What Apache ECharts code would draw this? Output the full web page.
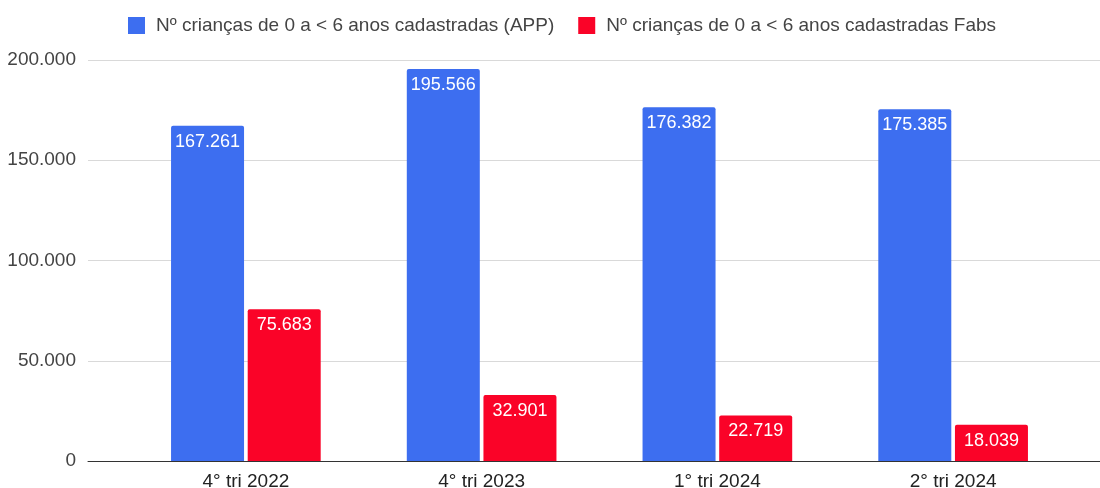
<!DOCTYPE html>
<html>
<head>
<meta charset="utf-8">
<script src="https://cdn.jsdelivr.net/npm/echarts@6/dist/echarts.min.js"></script>
<style>
  html, body { margin: 0; padding: 0; background: #fff; }
  #chart { width: 1100px; height: 488px; }
</style>
</head>
<body>
<div id="chart"></div>
<script>
  // dados
  var categories = ['4° tri 2022', '4° tri 2023', '1° tri 2024', '2° tri 2024'];
  var appValues = [167261, 195566, 176382, 175385];
  var fabsValues = [75683, 32901, 22719, 18039];
  var seriesNames = ['Nº crianças de 0 a < 6 anos cadastradas (APP)', 'Nº crianças de 0 a < 6 anos cadastradas Fabs'];
  var yTicks = [0, 50000, 100000, 150000, 200000];

  var FONT = '"Liberation Sans", Arial, sans-serif';

  // 167261 -> "167.261"
  function fmt (v) {
    return String(v).replace(/\B(?=(\d{3})+(?!\d))/g, '.');
  }

  var labelBar = {
    show: true,
    position: 'insideTop',
    distance: 7,
    color: '#fff',
    fontSize: 18,
    fontFamily: FONT,
    formatter: function (p) { return fmt(p.value); }
  };

  var chart = echarts.init(document.getElementById('chart'));
  chart.setOption({
    animation: false,
    textStyle: { fontFamily: FONT },
    legend: {
      left: 123,
      top: 11,
      itemWidth: 17,
      itemHeight: 17,
      itemGap: 24,
      icon: 'rect',
      textStyle: { fontSize: 19, color: '#444', padding: [0, 0, 0, 6] },
      data: seriesNames
    },
    grid: [
      // barras
      { left: 128, right: 29, top: 60, bottom: 27, outerBoundsMode: 'none' },
      // linhas de grade e eixo y
      { left: 88, right: 0, top: 60, bottom: 27, outerBoundsMode: 'none' }
    ],
    xAxis: [
      {
        type: 'category',
        gridIndex: 0,
        data: categories,
        axisLine: { show: false },
        axisTick: { show: false },
        axisLabel: { fontSize: 19, color: '#222', margin: 11 }
      },
      {
        type: 'category',
        gridIndex: 1,
        data: categories,
        axisLine: { show: true, lineStyle: { color: '#333', width: 1 } },
        axisTick: { show: false },
        axisLabel: { show: false }
      }
    ],
    yAxis: [
      {
        type: 'value',
        gridIndex: 0,
        min: yTicks[0],
        max: yTicks[yTicks.length - 1],
        interval: 50000,
        show: false,
        splitLine: { show: false }
      },
      {
        type: 'value',
        gridIndex: 1,
        min: yTicks[0],
        max: yTicks[yTicks.length - 1],
        interval: 50000,
        axisLine: { show: false },
        axisTick: { show: false },
        axisLabel: { fontSize: 19, color: '#444', margin: 12, formatter: fmt },
        splitLine: { lineStyle: { color: '#d9d9d9', width: 1 } }
      }
    ],
    series: [
      {
        name: seriesNames[0],
        type: 'bar',
        xAxisIndex: 0,
        yAxisIndex: 0,
        barWidth: 73,
        barGap: '5%',
        itemStyle: { color: '#3d6ef0', borderRadius: [2, 2, 0, 0] },
        label: labelBar,
        data: appValues
      },
      {
        name: seriesNames[1],
        type: 'bar',
        xAxisIndex: 0,
        yAxisIndex: 0,
        barWidth: 73,
        itemStyle: { color: '#fa0328', borderRadius: [2, 2, 0, 0] },
        label: labelBar,
        data: fabsValues
      }
    ]
  });
</script>
</body>
</html>
